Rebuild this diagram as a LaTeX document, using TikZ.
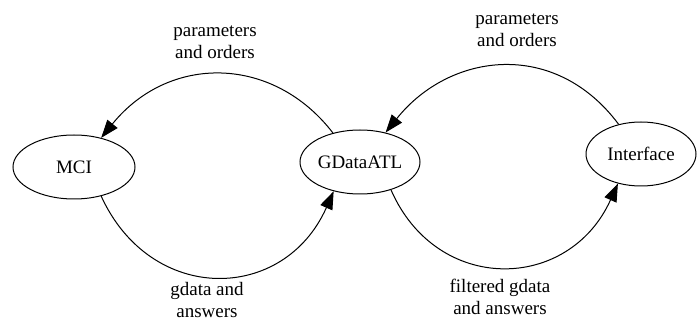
\documentclass[tikz,border=0pt]{standalone}
\usepackage{fontspec}
\setmainfont{Liberation Serif}
\usetikzlibrary{shapes.geometric,arrows.meta}
\tikzset{
  state/.style={ellipse, draw, line width=1pt, inner sep=0pt,
    minimum width=#1, minimum height=64pt, font=\fontsize{19}{23}\selectfont},
  flow/.style={line width=1pt, -{Triangle[length=18pt,width=13pt]}},
  lbl/.style={align=center, inner sep=0pt, font=\fontsize{19}{22}\selectfont}
}
\begin{document}
\begin{tikzpicture}[x=1pt,y=-1pt]
  \useasboundingbox (0,0) rectangle (697,323);

  % processes
  \node[state=122pt] (mci) at (74,167) {MCI};
  \node[state=120pt] (gd)  at (360,162) {GDataATL};
  \node[state=110pt] (ui)  at (641,154) {Interface};

  % MCI <-> GDataATL
  \draw[flow] (gd.133) .. controls (273,55) and (169,54) .. (mci.47);
  \draw[flow] (mci.-47) .. controls (151,305) and (284,303) .. (gd.228);

  % GDataATL <-> Interface
  \draw[flow] (ui.127) .. controls (555,39) and (450,52) .. (gd.49);
  \draw[flow] (gd.-42) .. controls (437,295) and (569,292) .. (ui.232);

  % edge labels
  \node[lbl] (l1) at (215,42)  {parameters\\and orders};
  \node[lbl] (l2) at (207,300) {gdata and\\answers};
  \node[lbl] (l3) at (517,30)  {parameters\\and orders};
  \node[lbl] (l4) at (500,297) {filtered gdata\\and answers};
\end{tikzpicture}
\end{document}
